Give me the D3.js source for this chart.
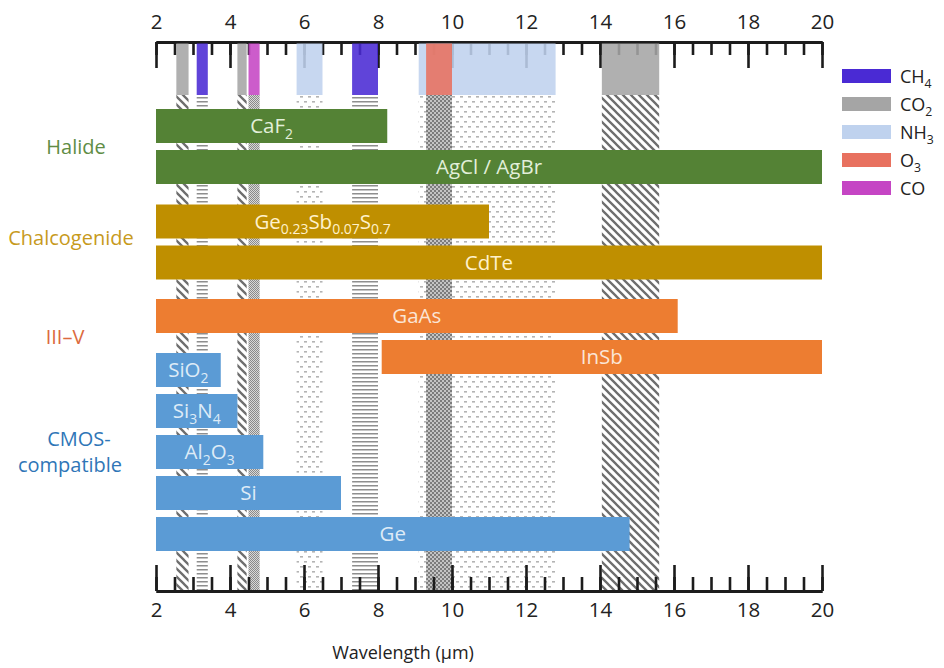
<!DOCTYPE html>
<html>
<head>
<meta charset="utf-8">
<script src="https://cdn.jsdelivr.net/npm/d3@7"></script>
<style>
  html, body { margin: 0; padding: 0; background: #fff; }
  svg { display: block; font-family: "Open Sans", "Noto Sans", sans-serif; }
</style>
</head>
<body>
<svg id="chart" width="944" height="668"></svg>
<script>
// ---- Wavelength axis (µm) ----
const majorTicks = [2, 4, 6, 8, 10, 12, 14, 16, 18, 20];
const minorTicks = [2, 2.5, 3, 3.5, 4, 4.5, 5, 5.5, 6, 6.5, 7, 7.5, 8, 8.5, 9, 9.5, 10,
                    10.5, 11, 11.5, 12, 12.5, 13, 13.5, 14, 14.5, 15, 15.5, 16, 16.5,
                    17, 17.5, 18, 18.5, 19, 19.5, 20];

// ---- Gas absorption bands ----
const gasKeys   = ["CH4", "CO2", "NH3", "O3", "CO"];
const gasLabels = ["CH_{4}", "CO_{2}", "NH_{3}", "O_{3}", "CO"];
const bandGas   = ["CO2", "CH4", "CO2", "CO", "NH3", "CH4", "NH3", "O3", "CO2"];
const bandStart = [2.55, 3.1, 4.2, 4.5, 5.8, 7.3, 9.1, 9.3, 14.05];
const bandEnd   = [2.88, 3.4, 4.45, 4.8, 6.5, 8.0, 12.8, 10.0, 15.6];

// ---- Waveguide material transparency windows ----
const groupNames     = ["Halide", "Chalcogenide", "III–V", "CMOS-compatible"];
const materialLabels = ["CaF_{2}", "AgCl / AgBr", "Ge_{0.23}Sb_{0.07}S_{0.7}", "CdTe",
                        "GaAs", "InSb", "SiO_{2}", "Si_{3}N_{4}", "Al_{2}O_{3}", "Si", "Ge"];
const materialGroup  = ["Halide", "Halide", "Chalcogenide", "Chalcogenide",
                        "III–V", "III–V", "CMOS-compatible", "CMOS-compatible",
                        "CMOS-compatible", "CMOS-compatible", "CMOS-compatible"];
const windowStart    = [2, 2, 2, 2, 2, 8.1, 2, 2, 2, 2, 2];
const windowEnd      = [8.25, 20, 11, 20, 16.1, 20, 3.75, 4.2, 4.9, 7.0, 14.8];

// ---- Styling ----
const gasColor = { CH4: "#4a2ad4", CO2: "#a5a5a5", NH3: "#bfd2ee", O3: "#e8715f", CO: "#c545c4" };
const gasFill  = { CH4: "url(#p-ch4)", CO2: "url(#p-co2)", NH3: "url(#p-nh3)", O3: "url(#p-o3)", CO: "url(#p-co)" };
const groupBar  = { "Halide": "#548235", "Chalcogenide": "#bf8f00", "III–V": "#ed7d31", "CMOS-compatible": "#5b9bd5" };
const groupText = { "Halide": "#5f8d45", "Chalcogenide": "#c79a1c", "III–V": "#dc6a3e", "CMOS-compatible": "#2f76b7" };
const barLabelColor = { "Halide": "#e2efda", "Chalcogenide": "#fff2cc", "III–V": "#fbe5d6", "CMOS-compatible": "#deebf7" };
// horizontal centre of each group caption (one entry per line)
const groupLabelX = { "Halide": [76], "Chalcogenide": [71], "III–V": [65], "CMOS-compatible": [79, 70] };

const svg = d3.select("#chart");
const topY = 42, bottomY = 591, bandBottom = 95;
const x = d3.scaleLinear().domain([2, 20]).range([156, 822]);

// Pattern fills used below the colored gas bands
const defs = svg.append("defs");
function pattern(id, w, h) {
  return defs.append("pattern").attr("id", id).attr("patternUnits", "userSpaceOnUse")
    .attr("width", w).attr("height", h);
}
pattern("p-co2", 8, 8).append("path")
  .attr("d", "M-1,-1L9,9M-1,7L1,9M7,-1L9,1")
  .attr("stroke", "#6e6e6e").attr("stroke-width", 2.3).attr("fill", "none");
{
  const p = pattern("p-ch4", 4, 4);
  p.append("rect").attr("width", 4).attr("height", 4).attr("fill", "#fff");
  p.append("rect").attr("y", 1).attr("width", 4).attr("height", 1.5).attr("fill", "#8e8e8e");
}
{
  const p = pattern("p-co", 2, 2);
  p.append("rect").attr("width", 2).attr("height", 2).attr("fill", "#d8d8d8");
  p.append("rect").attr("width", 1).attr("height", 1).attr("fill", "#8a8a8a");
  p.append("rect").attr("x", 1).attr("y", 1).attr("width", 1).attr("height", 1).attr("fill", "#8a8a8a");
}
{
  const p = pattern("p-nh3", 8, 10);
  p.append("rect").attr("width", 8).attr("height", 10).attr("fill", "#fff");
  p.append("rect").attr("x", 0).attr("y", 1).attr("width", 3).attr("height", 1.6).attr("fill", "#b4b4b4");
  p.append("rect").attr("x", 4).attr("y", 6).attr("width", 3).attr("height", 1.6).attr("fill", "#b4b4b4");
}
{
  const p = pattern("p-o3", 4, 4);
  p.append("rect").attr("width", 4).attr("height", 4).attr("fill", "#c4c4c4");
  p.append("rect").attr("width", 2).attr("height", 2).attr("fill", "#7c7c7c");
  p.append("rect").attr("x", 2).attr("y", 2).attr("width", 2).attr("height", 2).attr("fill", "#7c7c7c");
}

// Text with "_{...}" subscripts
function richText(sel, str, size) {
  const parts = str.split(/(_\{[^}]*\})/).filter(s => s.length);
  let lowered = false;
  parts.forEach(s => {
    if (s.startsWith("_{")) {
      sel.append("tspan").attr("font-size", size * 0.68).attr("dy", lowered ? 0 : size * 0.28)
        .text(s.slice(2, -1));
      lowered = true;
    } else {
      sel.append("tspan").attr("dy", lowered ? -size * 0.28 : 0).text(s);
      lowered = false;
    }
  });
}

const bands = bandGas.map((g, i) => ({ gas: g, x0: bandStart[i], x1: bandEnd[i] }));

// Patterned columns through the plot
svg.append("g").selectAll("rect").data(bands).join("rect")
  .attr("x", d => x(d.x0)).attr("width", d => x(d.x1) - x(d.x0))
  .attr("y", bandBottom).attr("height", bottomY - bandBottom)
  .attr("fill", d => gasFill[d.gas]);

// Axes
function styleAxis(g) {
  g.select(".domain").attr("stroke", "#1c1c1c").attr("stroke-width", 3).attr("fill", "none");
  g.selectAll(".tick line").attr("stroke", "#1c1c1c").attr("stroke-width", 2.6);
  g.selectAll(".tick text").attr("fill", "#222").attr("font-size", 20.5)
    .attr("font-family", "'Open Sans', sans-serif");
}
const axisLayer = svg.append("g");
axisLayer.append("g").attr("transform", `translate(0,${topY})`)
  .call(d3.axisTop(x).tickValues(minorTicks).tickSizeInner(-13).tickSizeOuter(0).tickFormat(""))
  .call(styleAxis);
axisLayer.append("g").attr("transform", `translate(0,${topY})`)
  .call(d3.axisTop(x).tickValues(majorTicks).tickSizeInner(-26).tickSizeOuter(0).tickPadding(13).tickFormat(d3.format("d")))
  .call(styleAxis);
axisLayer.append("g").attr("transform", `translate(0,${bottomY})`)
  .call(d3.axisBottom(x).tickValues(minorTicks).tickSizeInner(-14).tickSizeOuter(0).tickFormat(""))
  .call(styleAxis);
axisLayer.append("g").attr("transform", `translate(0,${bottomY})`)
  .call(d3.axisBottom(x).tickValues(majorTicks).tickSizeInner(-26).tickSizeOuter(0).tickPadding(11).tickFormat(d3.format("d")))
  .call(styleAxis);

// Colored gas bands along the top axis
svg.append("g").selectAll("rect").data(bands).join("rect")
  .attr("x", d => x(d.x0)).attr("width", d => x(d.x1) - x(d.x0))
  .attr("y", topY + 1.5).attr("height", bandBottom - topY - 1.5)
  .attr("fill", d => gasColor[d.gas]).attr("opacity", 0.88);

// Row layout for the material bars
const rowPitch = 41, barH = 34, firstRow = 126;
const groupGap = { "Chalcogenide": 54.5, "III–V": 53.5, "CMOS-compatible": 13 };
const rows = [];
materialLabels.forEach((label, i) => {
  const g = materialGroup[i];
  let cy = firstRow;
  if (i > 0) cy = rows[i - 1].cy + (g === materialGroup[i - 1] ? rowPitch : groupGap[g]);
  rows.push({ label, group: g, x0: windowStart[i], x1: windowEnd[i], cy });
});

const barFont = 20.5;
const barG = svg.append("g").selectAll("g").data(rows).join("g");
barG.append("rect")
  .attr("x", d => x(d.x0)).attr("width", d => x(d.x1) - x(d.x0))
  .attr("y", d => d.cy - barH / 2).attr("height", barH)
  .attr("fill", d => groupBar[d.group]);
barG.append("text")
  .attr("x", d => (x(d.x0) + x(d.x1)) / 2).attr("y", d => d.cy + 7)
  .attr("text-anchor", "middle").attr("font-size", barFont)
  .attr("fill", d => barLabelColor[d.group])
  .each(function (d) { richText(d3.select(this), d.label, barFont); });

// Group labels on the left
groupNames.forEach(name => {
  const cy = d3.mean(rows.filter(r => r.group === name), r => r.cy);
  const lines = name === "CMOS-compatible" ? ["CMOS-", "compatible"] : [name];
  lines.forEach((ln, k) => {
    svg.append("text").attr("text-anchor", "middle").attr("font-size", 20)
      .attr("fill", groupText[name])
      .attr("x", groupLabelX[name][k])
      .attr("y", cy + 7 + (k - (lines.length - 1) / 2) * 26 - (name === "Chalcogenide" ? 4 : 0))
      .text(ln);
  });
});

// Axis title
svg.append("text").attr("x", 403).attr("y", 659).attr("text-anchor", "middle")
  .attr("font-size", 18).attr("fill", "#222").text("Wavelength (µm)");

// Legend
const legend = svg.append("g").selectAll("g").data(gasKeys).join("g")
  .attr("transform", (d, i) => `translate(842,${76 + i * 28})`);
legend.append("rect").attr("y", -7).attr("width", 49).attr("height", 14)
  .attr("fill", d => gasColor[d]);
legend.append("text").attr("x", 58).attr("y", 6.5).attr("font-size", 18).attr("fill", "#222")
  .each(function (d, i) { richText(d3.select(this), gasLabels[i], 18); });
</script>
</body>
</html>
